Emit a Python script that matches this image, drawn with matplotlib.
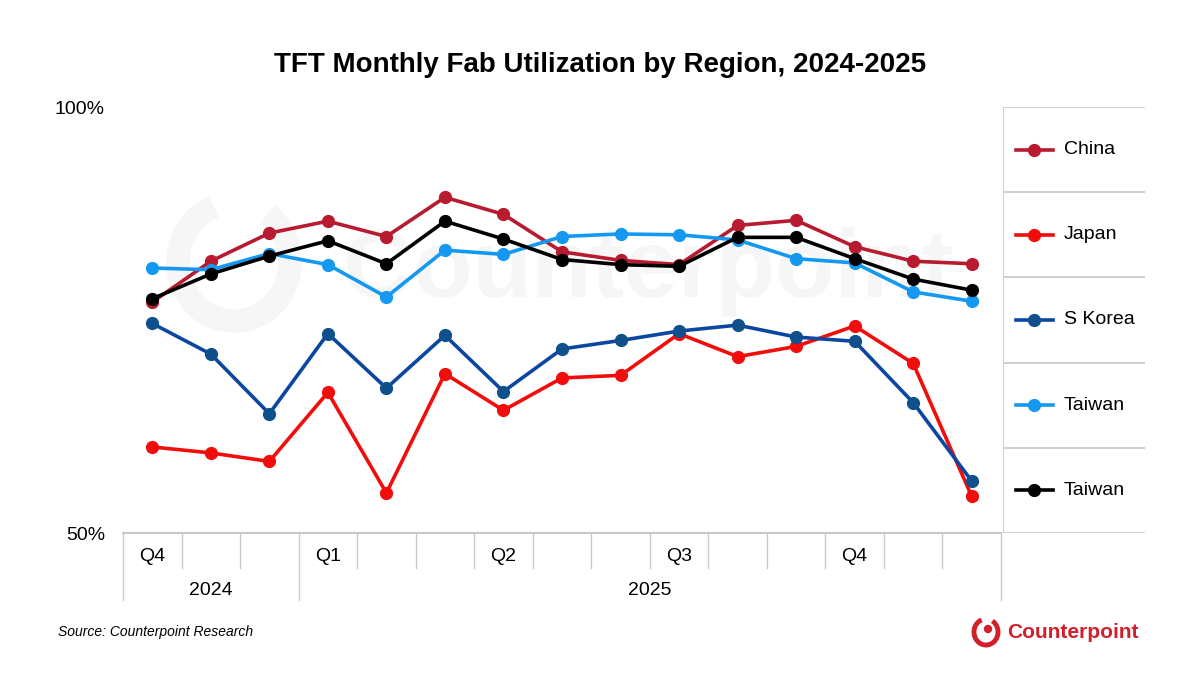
import matplotlib.pyplot as plt
import matplotlib.transforms as mtransforms
from matplotlib.patches import Arc, Circle

plt.rcParams['font.family'] = ['Liberation Sans', 'DejaVu Sans']

# data (% utilization)
months = ["Oct", "Nov", "Dec", "Jan", "Feb", "Mar", "Apr", "May", "Jun",
          "Jul", "Aug", "Sep", "Oct", "Nov", "Dec"]
quarter_labels = ["Q4", "", "", "Q1", "", "", "Q2", "", "", "Q3", "", "", "Q4", "", ""]
years = ["2024", "2025"]
year_spans = [(0, 3), (3, 15)]

china = [77.1, 81.9, 85.2, 86.6, 84.8, 89.4, 87.4, 83.0, 82.0, 81.5, 86.1, 86.7, 83.6, 81.9, 81.6]
japan = [60.1, 59.4, 58.4, 66.5, 54.7, 68.7, 64.4, 68.2, 68.5, 73.4, 70.7, 71.9, 74.3, 69.9, 54.3]
s_korea = [74.6, 71.0, 64.0, 73.4, 67.0, 73.2, 66.6, 71.6, 72.6, 73.7, 74.4, 73.0, 72.5, 65.3, 56.1]
taiwan = [81.1, 80.9, 82.8, 81.5, 77.7, 83.2, 82.7, 84.8, 85.1, 85.0, 84.4, 82.2, 81.7, 78.3, 77.2]
taiwan_2 = [77.5, 80.4, 82.5, 84.3, 81.6, 86.6, 84.5, 82.1, 81.5, 81.3, 84.7, 84.7, 82.2, 79.8, 78.5]

series = [
    ("China", china, "#B81A30", "#B81A30"),
    ("Japan", japan, "#F20D0D", "#F20D0D"),
    ("S Korea", s_korea, "#0B47A1", "#0E4F8C"),
    ("Taiwan", taiwan, "#1599F0", "#1599F0"),
    ("Taiwan", taiwan_2, "#000000", "#000000"),
]

grid_col = "#C8C8C8"
logo_red = "#D21F2B"
wm_col = "#F6F6F6"

fig = plt.figure(figsize=(12, 6.8), dpi=100)

# background layer in pixel coordinates (watermark + logo icon)
# y is flipped here, so the ring gap at the upper right sits at negative angles
bg = fig.add_axes([0, 0, 1, 1], zorder=0)
bg.set_xlim(0, 1200)
bg.set_ylim(680, 0)
bg.axis("off")
bg.add_patch(Arc((234, 262), 112, 118, theta1=-55, theta2=250, lw=17,
                 color=wm_col))
bg.text(648, 272, "Counterpoint", fontsize=70, fontweight="bold",
        color=wm_col, ha="center", va="center")
bg.add_patch(Arc((986, 632), 24, 26, theta1=-60, theta2=250, lw=3.5,
                 color=logo_red))
bg.add_patch(Circle((988, 629), 3.5, color=logo_red))

ax = fig.add_axes([123 / 1200, 147 / 680, 878 / 1200, 426 / 680], zorder=1)
ax.patch.set_visible(False)

x = [i + 0.5 for i in range(len(months))]
for name, vals, col, mcol in series:
    ax.plot(x, vals, color=col, lw=2.6, marker="o", ms=8.5,
            mfc=mcol, mec=mcol, zorder=3)

ax.set_xlim(0, len(months))
ax.set_ylim(50, 100)
for s in ["top", "right", "left"]:
    ax.spines[s].set_visible(False)
ax.spines["bottom"].set_color(grid_col)
ax.spines["bottom"].set_linewidth(1.5)
ax.set_xticks([])
ax.set_yticks([50, 100])
ax.set_yticklabels(["50%", "100%"], fontsize=14)
ax.tick_params(axis="y", length=0, pad=13)

# two-level category axis below the plot
trans = mtransforms.blended_transform_factory(ax.transData, ax.transAxes)
for i in range(len(months) + 1):
    bottom = -0.157 if i in (0, 3, 15) else -0.082
    ax.plot([i, i], [0, bottom], transform=trans, color=grid_col, lw=1,
            clip_on=False)
for i, q in enumerate(quarter_labels):
    if q:
        ax.text(i + 0.5, -0.054, q, transform=trans, ha="center", va="center",
                fontsize=14)
for yr, (a, b) in zip(years, year_spans):
    ax.text((a + b) / 2, -0.135, yr, transform=trans, ha="center",
            va="center", fontsize=14)

# legend panel as a table on the right
lax = fig.add_axes([1003 / 1200, 147 / 680, 142 / 1200, 426 / 680], zorder=1)
lax.set_xlim(0, 1)
lax.set_ylim(0, 5)
lax.axis("off")
lax.plot([0, 0], [0, 5], color=grid_col, lw=1.2)
for k in range(6):
    lax.plot([0, 1], [k, k], color=grid_col, lw=1.2)
for k, (name, vals, col, mcol) in enumerate(series):
    yc = 4.5 - k
    lax.plot([0.09, 0.35], [yc, yc], color=col, lw=2.6)
    lax.plot([0.22], [yc], marker="o", ms=8.5, color=mcol)
    lax.text(0.43, yc, name, fontsize=14, va="center", ha="left")

fig.text(0.5, 0.905, "TFT Monthly Fab Utilization by Region, 2024-2025",
         ha="center", va="center", fontsize=20, fontweight="bold")

fig.text(58 / 1200, 1 - 632 / 680, "Source: Counterpoint Research",
         fontsize=10, style="italic", ha="left", va="center")

fig.text(1007 / 1200, 1 - 632 / 680, "Counterpoint", fontsize=15,
         fontweight="bold", color=logo_red, ha="left", va="center")

fig.savefig("out.png", dpi=100)
